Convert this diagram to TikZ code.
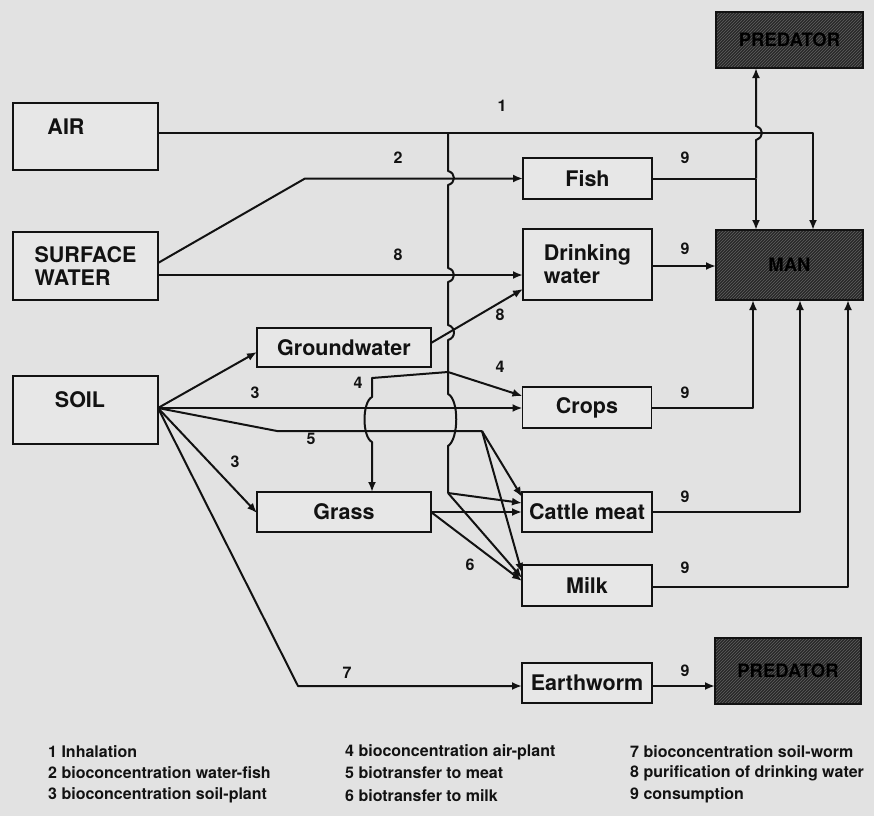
\documentclass[tikz,border=0pt]{standalone}
\usepackage{fontspec}
\setmainfont{TeX Gyre Heros}
\usetikzlibrary{arrows.meta,patterns}
\definecolor{bg}{RGB}{226,226,226}
\definecolor{boxbg}{RGB}{231,231,231}
\definecolor{ink}{RGB}{18,18,18}
\definecolor{darkfill}{RGB}{40,40,40}
\definecolor{hatch}{RGB}{95,95,95}
\begin{document}
\begin{tikzpicture}[x=1pt,y=-1pt,
  box/.style={draw=ink, line width=1.4pt, fill=boxbg, inner sep=0pt, outer sep=0pt,
    font=\fontsize{21.5}{23}\selectfont\bfseries, text=ink, align=left},
  boxtext/.style={font=\fontsize{21.5}{23}\selectfont\bfseries, text=ink, inner sep=0pt},
  darkbox/.style={draw=ink, line width=1.4pt, preaction={fill=darkfill}, pattern=north east lines,
    pattern color=hatch, inner sep=0pt, outer sep=0pt, font=\fontsize{18.5}{20}\selectfont\bfseries, text=black},
  conn/.style={draw=ink, line width=2pt, line join=round},
  arr/.style={conn, -{Latex[length=10pt,width=8pt]}},
  lbl/.style={font=\fontsize{16}{18}\selectfont\bfseries, text=ink, inner sep=0pt},
  legend/.style={font=\fontsize{16}{18}\selectfont\bfseries, text=ink, anchor=west, inner sep=0pt}
]
\fill[bg] (0,0) rectangle (874,816);
\useasboundingbox (0,0) rectangle (874,816);

% boxes
\node[box, minimum width=145pt, minimum height=67pt] (air) at (85.5,136.5) {};
\node[boxtext] (airtxt) at (66,127) {AIR};
\node[box, minimum width=145pt, minimum height=68pt] (sw) at (85.5,266) {SURFACE\\WATER};
\node[box, minimum width=145pt, minimum height=68pt] (soil) at (85.5,410) {};
\node[boxtext] (soiltxt) at (80,400) {SOIL};
\node[box, minimum width=174pt, minimum height=39pt] (gw) at (344,347.5) {Groundwater};
\node[box, minimum width=174pt, minimum height=40pt] (grass) at (344,512) {Grass};
\node[box, minimum width=129pt, minimum height=41pt] (fish) at (587.5,178.5) {Fish};
\node[box, minimum width=129pt, minimum height=71pt] (dw) at (587.5,264.5) {Drinking\\water};
\node[box, minimum width=129pt, minimum height=41pt] (crops) at (587,407.5) {Crops};
\node[box, minimum width=130pt, minimum height=40pt] (cattle) at (587,512) {Cattle meat};
\node[box, minimum width=130pt, minimum height=41pt] (milk) at (587,585.5) {Milk};
\node[box, minimum width=130pt, minimum height=40pt] (worm) at (587,683) {Earthworm};
\node[darkbox, minimum width=147pt, minimum height=56pt] (pred1) at (789.5,40) {PREDATOR};
\node[darkbox, minimum width=147pt, minimum height=70pt] (man) at (789.5,265) {MAN};
\node[darkbox, minimum width=146pt, minimum height=66pt] (pred2) at (788,671) {PREDATOR};

% 1 inhalation
\draw[arr] ([yshift=3.5pt]air.east) -- (813,133) -- ([xshift=23.5pt]man.north);

% 4 air-plant trunk
\coordinate (t1) at (448,133);
\coordinate (t2) at (448,372);
\coordinate (t3) at (448,493);
\draw[conn] (t1) -- (448,171) .. controls (456,173) and (456,183) .. (448,185)
  -- (448,268) .. controls (456,270) and (456,280) .. (448,282)
  -- (448,325) .. controls (456,327) and (456,338) .. (448,340)
  -- (t2) -- (448,394) .. controls (459,399) and (459,439) .. (448,446) -- (t3);
\draw[arr] (t2) -- (372,378) -- (372,397) .. controls (362,402) and (362,437) .. (372,442)
  -- ([xshift=28pt]grass.north);
\draw[arr] (t2) -- ([yshift=11.5pt]crops.west);
\draw[arr] (t3) -- ([yshift=9pt]cattle.west);
\draw[arr] (t3) -- ([yshift=7.5pt]milk.west);

% soil
\coordinate (soilout) at ([yshift=2pt]soil.east);
\draw[arr] (soilout) -- ([yshift=-4.5pt]gw.west);
\draw[arr] (soilout) -- ([yshift=-0.5pt]crops.west);
\draw[arr] (soilout) -- ([yshift=-1pt]grass.west);
\draw[conn] (soilout) -- (277,431) -- (482,431) coordinate (five);
\draw[arr] (five) -- ([yshift=15pt]cattle.west);
\draw[arr] (five) -- ([yshift=12.5pt]milk.west);
\draw[arr] (soilout) -- (298,686) -- ([yshift=-3pt]worm.west);

% surface water
\draw[arr] ([yshift=3pt]sw.east) -- (305,178.5) -- (fish.west);
\draw[arr] ([yshift=-9pt]sw.east) -- ([yshift=-10.5pt]dw.west);
\draw[arr] ([yshift=4.5pt]gw.east) -- ([yshift=-24.5pt]dw.west);

% grass
\draw[arr] (grass.east) -- (cattle.west);
\draw[arr] (grass.east) -- ([yshift=4.5pt]milk.west);

% consumption
\draw[conn] (fish.east) -- (756,178.5) coordinate (fj);
\draw[arr] (fj) -- ([xshift=-33.5pt]man.north);
\draw[arr] (fj) -- (756,140) .. controls (764,137) and (764,129) .. (756,126) -- ([xshift=-33.5pt]pred1.south);
\draw[arr] ([yshift=-1.5pt]dw.east) -- ([yshift=-1pt]man.west);
\draw[arr] (crops.east) -- (753,407.5) -- ([xshift=-36.5pt]man.south);
\draw[arr] (cattle.east) -- (800,512) -- ([xshift=10.5pt]man.south);
\draw[arr] ([yshift=-1.5pt]milk.east) -- (848,587) -- ([xshift=58.5pt]man.south);
\draw[arr] ([yshift=-3pt]worm.east) -- ([yshift=-15pt]pred2.west);

% path labels
\node[lbl] (l1) at (502,106) {1};
\node[lbl] (l2) at (398,158) {2};
\node[lbl] (l8a) at (398,255) {8};
\node[lbl] (l8b) at (500,315) {8};
\node[lbl] (l4a) at (358,383) {4};
\node[lbl] (l4b) at (500,367) {4};
\node[lbl] (l3a) at (255,393) {3};
\node[lbl] (l5) at (311,439) {5};
\node[lbl] (l3b) at (235,462) {3};
\node[lbl] (l6) at (470,565) {6};
\node[lbl] (l7) at (347,673) {7};
\node[lbl] (l9a) at (685,158) {9};
\node[lbl] (l9b) at (685,249) {9};
\node[lbl] (l9c) at (685,393) {9};
\node[lbl] (l9d) at (685,497) {9};
\node[lbl] (l9e) at (685,568) {9};
\node[lbl] (l9f) at (685,671) {9};

% legend
\node[legend] (g1) at (48,752) {1 Inhalation};
\node[legend] (g2) at (48,773) {2 bioconcentration water-fish};
\node[legend] (g3) at (48,795) {3 bioconcentration soil-plant};
\node[legend] (g4) at (345,752) {4 bioconcentration air-plant};
\node[legend] (g5) at (345,773) {5 biotransfer to meat};
\node[legend] (g6) at (345,796) {6 biotransfer to milk};
\node[legend] (g7) at (630,752) {7 bioconcentration soil-worm};
\node[legend] (g8) at (630,773) {8 purification of drinking water};
\node[legend] (g9) at (630,795) {9 consumption};
\end{tikzpicture}
\end{document}
